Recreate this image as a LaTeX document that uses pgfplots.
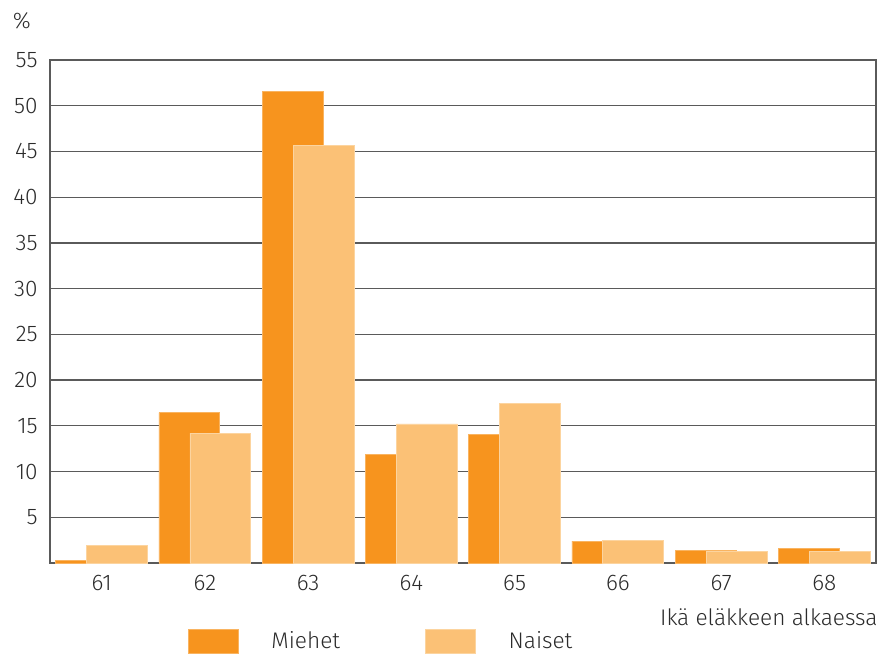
\documentclass[border=0pt]{standalone}
\usepackage{fontspec}
\setmainfont{Fira Sans}[UprightFont=* Light]
\usepackage{pgfplots}
\pgfplotsset{compat=1.18}
\definecolor{miehet}{HTML}{F7941E}
\definecolor{naiset}{HTML}{FBC176}
\definecolor{txt}{HTML}{2B2B2B}
\definecolor{gridc}{HTML}{5A5A5A}
\begin{document}
\begin{tikzpicture}
\useasboundingbox (-25pt,-45.5pt) rectangle (416.5pt,281.5pt);
\begin{axis}[
  at={(0pt,0pt)}, anchor=south west,
  scale only axis, width=413pt, height=251.5pt,
  xmin=-0.5, xmax=7.5, ymin=0, ymax=55,
  xtick={0,1,2,3,4,5,6,7},
  xticklabels={61,62,63,64,65,66,67,68},
  ytick={5,10,15,20,25,30,35,40,45,50,55},
  major tick length=0pt,
  ymajorgrids,
  grid style={gridc, line width=0.6pt},
  axis line style={gridc, line width=0.7pt},
  /pgf/number format/assume math mode=true,
  tick label style={font=\fontsize{11.3}{13}\selectfont, text=txt},
  yticklabel style={anchor=east, inner sep=0pt, xshift=-6pt},
  xticklabel style={anchor=north, inner sep=0pt, yshift=-6pt},
  ylabel={\%},
  ylabel style={rotate=-90, anchor=center, inner sep=0pt, font=\fontsize{11.3}{13}\selectfont, text=txt, at={(axis description cs:-0.034,1.078)}},
  xlabel={Ikä eläkkeen alkaessa},
  xlabel style={anchor=east, inner sep=0pt, font=\fontsize{11.3}{13}\selectfont, text=txt, at={(axis description cs:1.0024,-0.1074)}},
  legend columns=2,
  legend style={at={(axis description cs:0.1667,-0.156)}, anchor=west, draw=none, fill=none,
    inner sep=0pt, outer sep=0pt, font=\fontsize{11.3}{13}\selectfont, text=txt,
    /tikz/every odd column/.append style={column sep=16.5pt},
    /tikz/every even column/.append style={column sep=16.7pt},
    nodes={inner sep=0pt, text width=60pt, align=left}},
  mylegend/.style={legend image code/.code={\fill[##1] (0pt,-6pt) rectangle (25pt,6pt);}},
]
\addplot[ybar, bar width=0.59, bar shift=-0.15, fill=miehet, draw=miehet!70!white, line width=0.4pt, mylegend]
  coordinates {(0,0.3) (1,16.45) (2,51.6) (3,11.9) (4,14.05) (5,2.4) (6,1.4) (7,1.6)};
\addplot[ybar, bar width=0.59, bar shift=0.15, fill=naiset, draw=naiset!70!white, line width=0.4pt, mylegend]
  coordinates {(0,1.9) (1,14.2) (2,45.7) (3,15.2) (4,17.4) (5,2.5) (6,1.3) (7,1.3)};
\legend{Miehet, Naiset}
\end{axis}
\end{tikzpicture}
\end{document}
